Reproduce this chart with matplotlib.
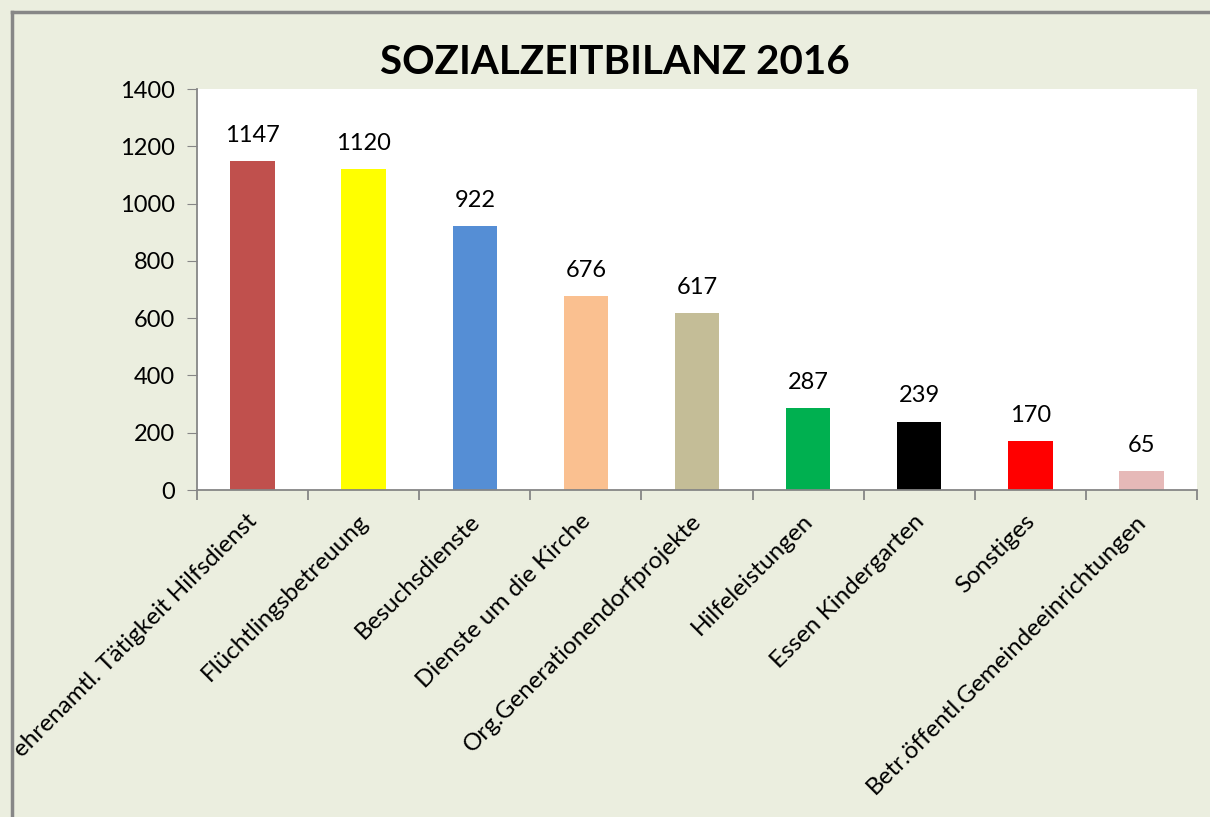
import matplotlib
matplotlib.use("Agg")
import matplotlib.pyplot as plt
from matplotlib.lines import Line2D

categories = ["ehrenamtl. Tätigkeit Hilfsdienst", "Flüchtlingsbetreuung", "Besuchsdienste",
              "Dienste um die Kirche", "Org.Generationendorfprojekte", "Hilfeleistungen",
              "Essen Kindergarten", "Sonstiges", "Betr.öffentl.Gemeindeeinrichtungen"]
values = [1147, 1120, 922, 676, 617, 287, 239, 170, 65]
colors = ["#C0504D", "#FFFF00", "#558ED5", "#FAC090", "#C4BD97", "#00B050", "#000000", "#FF0000", "#E6B9B8"]
yticks = [0, 200, 400, 600, 800, 1000, 1200, 1400]
title = "SOZIALZEITBILANZ 2016"

plt.rcParams['font.family'] = ['Lato', 'DejaVu Sans']

W, H = 1210, 817
fig = plt.figure(figsize=(W / 100, H / 100), dpi=100)
fig.patch.set_facecolor("#EBEEDF")

# outer border (top and left visible)
bx, by = 12 / W, 1 - 11.5 / H
fig.add_artist(Line2D([bx, bx], [0, by], transform=fig.transFigure, color="#878787", linewidth=2.5))
fig.add_artist(Line2D([bx, 1], [by, by], transform=fig.transFigure, color="#878787", linewidth=2.5))

ax = fig.add_axes([197 / W, 1 - 490 / H, 1000 / W, 401 / H])
ax.set_facecolor("white")
x = list(range(len(categories)))
bars = ax.bar(x, values, width=0.40, color=colors)
ax.set_xlim(-0.5, len(categories) - 0.5)
ax.set_ylim(0, 1400)
ax.set_yticks(yticks)
ax.set_yticklabels([str(t) for t in yticks], fontsize=17)
ax.tick_params(axis='y', length=7, color="#868686", pad=9)

for s in ["top", "right"]:
    ax.spines[s].set_visible(False)
for s in ["left", "bottom"]:
    ax.spines[s].set_color("#868686")
    ax.spines[s].set_linewidth(1.3)

# x ticks at category boundaries
ax.set_xticks([i - 0.5 for i in range(len(categories) + 1)])
ax.set_xticklabels([])
ax.tick_params(axis='x', length=7, color="#868686", width=1.3)

for xi, lab in zip(x, categories):
    ax.annotate(lab, xy=(xi, 0), xycoords='data', xytext=(1, -20), textcoords='offset points',
                rotation=45, ha='right', va='center', rotation_mode='anchor', fontsize=17.5)

for xi, v in zip(x, values):
    ax.annotate(str(v), xy=(xi, v), xytext=(0, 11), textcoords='offset points',
                ha='center', va='bottom', fontsize=17)

fig.text(615 / W, 1 - 62 / H, title, ha='center', va='center', fontsize=29, fontweight='bold')

fig.savefig("out.png", dpi=100, facecolor=fig.get_facecolor())
